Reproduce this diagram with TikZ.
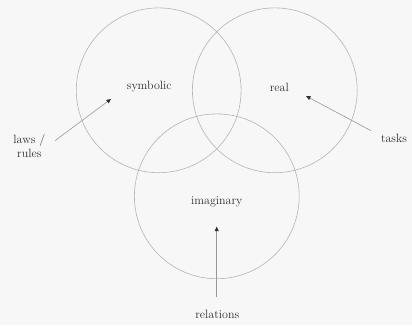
\documentclass[tikz,border=0pt]{standalone}
\usetikzlibrary{arrows.meta}
\definecolor{paper}{HTML}{F7F7F7}
\definecolor{ringgray}{HTML}{B4B4B4}
\definecolor{ink}{HTML}{2E2E2E}
\tikzset{
  ring/.style={draw=ringgray,line width=0.6pt,circle,minimum size=164.8pt,inner sep=0pt},
  word/.style={text=ink,font=\fontsize{12}{14}\selectfont,align=center,inner sep=0pt},
  pointer/.style={draw=ringgray!85!black,line width=0.6pt,-{Triangle[length=4.5pt,width=4pt,color=ink]}}
}
\begin{document}
\begin{tikzpicture}[x=1pt,y=-1pt]
  \fill[paper] (0,0) rectangle (412,325);
  \useasboundingbox (0,0) rectangle (412,325);
  % the three rings
  \node[ring] (symring) at (158.7,90.3) {};
  \node[ring] (realring) at (274.8,90.3) {};
  \node[ring] (imring) at (216.8,196.3) {};
  % labels
  \node[word] (sym) at (149.3,87) {symbolic};
  \node[word] (real) at (279.3,87) {real};
  \node[word] (imag) at (216.7,202) {imaginary};
  \node[word] (laws) at (29.3,146) {laws /\\rules};
  \node[word] (tasks) at (394,138) {tasks};
  \node[word] (rel) at (217.3,314) {relations};
  % pointers
  \coordinate (lawsfrom) at (55,140.7);
  \coordinate (lawsto) at (111,99);
  \coordinate (tasksfrom) at (371,130.7);
  \coordinate (tasksto) at (306,96);
  \coordinate (relfrom) at (216.7,297.3);
  \coordinate (relto) at (216.7,226.7);
  \draw[pointer] (lawsfrom)--(lawsto);
  \draw[pointer] (tasksfrom)--(tasksto);
  \draw[pointer] (relfrom)--(relto);
\end{tikzpicture}
\end{document}
